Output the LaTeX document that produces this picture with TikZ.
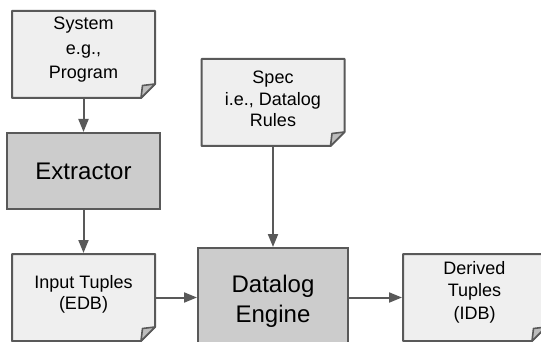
\documentclass[tikz,border=0pt]{standalone}
\usepackage{fontspec}
\setmainfont{Liberation Sans}
\usetikzlibrary{arrows.meta}

\definecolor{edgegray}{HTML}{595959}
\definecolor{notefill}{HTML}{EFEFEF}
\definecolor{procfill}{HTML}{CCCCCC}
\definecolor{foldfill}{HTML}{BDBDBD}

\pgfdeclarelayer{background}
\pgfsetlayers{background,main}

\tikzset{
  notebox/.style={minimum width=143pt, minimum height=87pt, inner sep=0pt, outer sep=0pt},
  notetext/.style={font=\fontsize{18}{22}\selectfont, align=center, inner sep=0pt, text=black},
  procbox/.style={draw=edgegray, fill=procfill, line width=2pt, inner sep=0pt, outer sep=0pt,
                  align=center, text=black, font=\fontsize{24}{30}\selectfont},
  flow/.style={draw=edgegray, line width=2pt, shorten >=1pt, shorten <=1pt,
               -{Triangle[length=13pt,width=10pt]}},
}

% Document shape with a folded bottom-right corner, drawn behind the node #1
\newcommand\foldnote[1]{%
  \begin{pgfonlayer}{background}
    \filldraw[fill=notefill, draw=edgegray, line width=2pt, line join=round]
      (#1.north west) -- (#1.north east) -- ([yshift=14pt]#1.south east)
      -- ([xshift=-14pt]#1.south east) -- (#1.south west) -- cycle;
    \filldraw[fill=foldfill, draw=edgegray, line width=1.6pt, line join=round]
      ([yshift=14pt]#1.south east) -- ([xshift=-12.5pt,yshift=12.5pt]#1.south east)
      -- ([xshift=-14pt]#1.south east) -- cycle;
  \end{pgfonlayer}}

\begin{document}
\begin{tikzpicture}[x=1pt, y=-1pt]
  \useasboundingbox (0,0) rectangle (541,342);
  \clip (0,0) rectangle (541,342);

  % boxes
  \node[notebox] (sys)  at (83.5,54.5)  {};
  \node[procbox, minimum width=153pt, minimum height=76pt] (ext) at (83.5,171) {Extractor};
  \node[notebox] (inp)  at (83.5,297.5) {};
  \node[notebox] (spec) at (273,102.5)  {};
  \node[procbox, minimum width=150pt, minimum height=106pt] (dl) at (273,301) {Datalog\\Engine};
  \node[notebox] (der)  at (474.5,297.5) {};

  \foldnote{sys}
  \foldnote{inp}
  \foldnote{spec}
  \foldnote{der}

  % texts of the documents
  \node[notetext, font=\fontsize{18}{24.5}\selectfont] (sys-t) at (83.5,50) {System\\e.g.,\\Program};
  \node[notetext, font=\fontsize{18}{21.5}\selectfont] (spec-t) at (273,99) {Spec\\i.e., Datalog\\Rules};
  \node[notetext, font=\fontsize{18}{21}\selectfont] (inp-t) at (83.5,294) {Input Tuples\\(EDB)};
  \node[notetext, font=\fontsize{18}{22.5}\selectfont] (der-t) at (474.5,292) {Derived\\Tuples\\(IDB)};

  % connectors
  \draw[flow] (sys.south) -- (ext.north);
  \draw[flow] (ext.south) -- (inp.north);
  \draw[flow] (spec.south) -- (spec.south |- dl.north);
  \draw[flow] (inp.east) -- (inp.east -| dl.west);
  \draw[flow] (dl.east |- der.west) -- (der.west);
\end{tikzpicture}
\end{document}
